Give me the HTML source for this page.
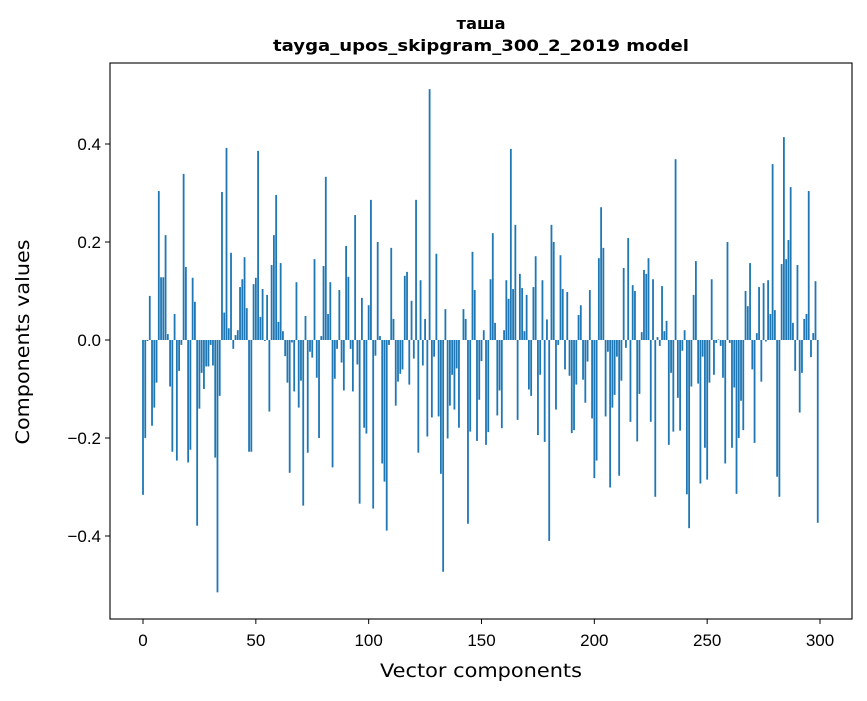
<!DOCTYPE html>
<html><head><meta charset="utf-8"><style>
body{margin:0;background:#fff;}
svg text{font-family:"Liberation Sans","DejaVu Sans",sans-serif;fill:#000;}
svg text.dv{font-family:"DejaVu Sans","Liberation Sans",sans-serif;}
</style></head><body>
<svg id="chart" width="867" height="696" viewBox="0 0 867 696">
<rect width="867" height="696" fill="#fff"/>
<text class="dv" x="481" y="29" font-size="16" font-weight="bold" text-anchor="middle" textLength="49" lengthAdjust="spacingAndGlyphs">таша</text>
<text class="dv" x="481" y="51" font-size="16" font-weight="bold" text-anchor="middle" textLength="416" lengthAdjust="spacingAndGlyphs">tayga_upos_skipgram_300_2_2019 model</text>
<g id="bars"></g>
<g id="axes"></g>
<rect x="110" y="63" width="742" height="556" fill="none" stroke="#000" stroke-width="1.1"/>
<text class="dv" x="481" y="677" font-size="19" text-anchor="middle" textLength="202" lengthAdjust="spacingAndGlyphs">Vector components</text>
<text class="dv" x="29" y="342" font-size="19" text-anchor="middle" textLength="205" lengthAdjust="spacingAndGlyphs" transform="rotate(-90 29 342)">Components values</text>
</svg>
<script>
const values = [
-0.316,-0.2,-0.002,0.09,-0.175,-0.138,-0.087,0.304,0.128,0.128,
0.214,0.012,-0.095,-0.228,0.053,-0.246,-0.063,-0.01,0.339,0.149,
-0.25,-0.224,0.127,0.078,-0.379,-0.14,-0.067,-0.1,-0.054,-0.054,
-0.01,-0.052,-0.24,-0.515,-0.114,0.302,0.056,0.392,0.024,0.178,
-0.018,0.01,0.02,0.108,0.124,0.169,0.065,-0.228,-0.228,0.114,
0.127,0.386,0.047,0.104,-0.002,0.092,-0.146,0.153,0.214,0.296,
0.037,0.157,0.018,-0.033,-0.087,-0.271,-0.005,-0.105,0.118,-0.138,
-0.083,-0.338,0.049,-0.23,-0.024,-0.036,0.165,-0.077,-0.2,0.008,
0.151,0.333,0.053,0.118,-0.26,-0.079,-0.018,0.102,-0.046,-0.103,
0.192,0.129,-0.018,-0.105,0.255,-0.05,-0.334,0.086,-0.179,-0.191,
0.071,0.286,-0.344,-0.032,0.2,0.008,-0.252,-0.289,-0.389,-0.01,
0.188,0.043,-0.134,-0.085,-0.069,-0.06,0.131,0.139,-0.091,0.08,
-0.038,0.286,-0.23,0.122,-0.052,0.043,-0.197,0.512,-0.158,-0.034,
0.176,-0.156,-0.273,-0.473,0.063,-0.201,-0.134,-0.071,-0.142,-0.058,
-0.179,0.0,0.063,0.043,-0.375,-0.187,0.18,0.102,-0.206,-0.122,
-0.043,0.02,-0.214,-0.188,0.124,0.218,0.035,-0.154,-0.103,-0.18,
0.02,0.122,0.084,0.39,0.104,0.235,-0.163,0.135,0.106,0.018,
0.092,-0.101,-0.114,0.108,0.171,-0.194,-0.071,0.122,-0.208,0.042,
-0.41,0.235,0.2,-0.142,-0.01,0.173,0.104,-0.06,0.098,-0.073,
-0.19,-0.184,-0.091,0.051,0.071,-0.081,-0.128,-0.044,0.102,-0.16,
-0.282,-0.246,0.167,0.271,0.188,-0.156,-0.024,-0.301,-0.138,-0.112,
-0.034,-0.277,-0.083,0.147,-0.016,0.208,-0.167,0.112,0.1,-0.207,
-0.11,0.016,0.143,0.135,0.167,-0.167,0.124,-0.32,0.006,-0.012,
0.11,0.018,0.039,-0.214,-0.067,-0.187,0.369,-0.118,-0.185,-0.022,
0.02,-0.315,-0.384,-0.095,0.092,0.161,-0.089,-0.293,-0.034,-0.22,
-0.285,-0.087,0.124,-0.071,-0.006,0.001,-0.012,-0.077,-0.252,0.2,
-0.006,-0.22,-0.097,-0.314,-0.2,-0.124,-0.184,0.1,0.069,0.157,
-0.06,-0.21,0.014,0.108,-0.085,0.116,-0.003,0.122,0.053,0.359,
0.061,-0.279,-0.32,0.155,0.414,0.165,0.204,0.312,0.035,-0.063,
0.153,-0.148,-0.067,0.043,0.053,0.304,-0.035,0.014,0.12,-0.373
];
const xTicks = [0,50,100,150,200,250,300];
const yTicks = [-0.4,-0.2,0.0,0.2,0.4];
const yTickLabels = ["\u22120.4","\u22120.2","0.0","0.2","0.4"];

const NS="http://www.w3.org/2000/svg";
const xScale = i => 143 + i*2.2567;
const yScale = v => 340 - v*490;
const barsG=document.getElementById('bars');
values.forEach((v,i)=>{
  const r=document.createElementNS(NS,'rect');
  const y0=yScale(0), y1=yScale(v);
  r.setAttribute('x', xScale(i)-0.9);
  r.setAttribute('width', 1.8);
  r.setAttribute('y', Math.min(y0,y1));
  r.setAttribute('height', Math.abs(y1-y0));
  r.setAttribute('fill','#1f77b4');
  
  
  barsG.appendChild(r);
});
const axesG=document.getElementById('axes');
xTicks.forEach(t=>{
  const x=xScale(t);
  const l=document.createElementNS(NS,'line');
  l.setAttribute('x1',x);l.setAttribute('x2',x);l.setAttribute('y1',619);l.setAttribute('y2',624);
  l.setAttribute('stroke','#000');l.setAttribute('stroke-width','1');
  
  
  axesG.appendChild(l);
  const tx=document.createElementNS(NS,'text');
  tx.setAttribute('x',x);tx.setAttribute('y',646);tx.setAttribute('font-size','17');tx.setAttribute('text-anchor','middle');
  tx.textContent=String(t);
  
  
  axesG.appendChild(tx);
});
yTicks.forEach((t,k)=>{
  const y=yScale(t);
  const l=document.createElementNS(NS,'line');
  l.setAttribute('x1',105);l.setAttribute('x2',110);l.setAttribute('y1',y);l.setAttribute('y2',y);
  l.setAttribute('stroke','#000');l.setAttribute('stroke-width','1');
  
  
  axesG.appendChild(l);
  const tx=document.createElementNS(NS,'text');
  tx.setAttribute('x',101);tx.setAttribute('y',y+6);tx.setAttribute('font-size','17');tx.setAttribute('text-anchor','end');
  tx.textContent=yTickLabels[k];
  
  
  axesG.appendChild(tx);
});
</script>
</body></html>
